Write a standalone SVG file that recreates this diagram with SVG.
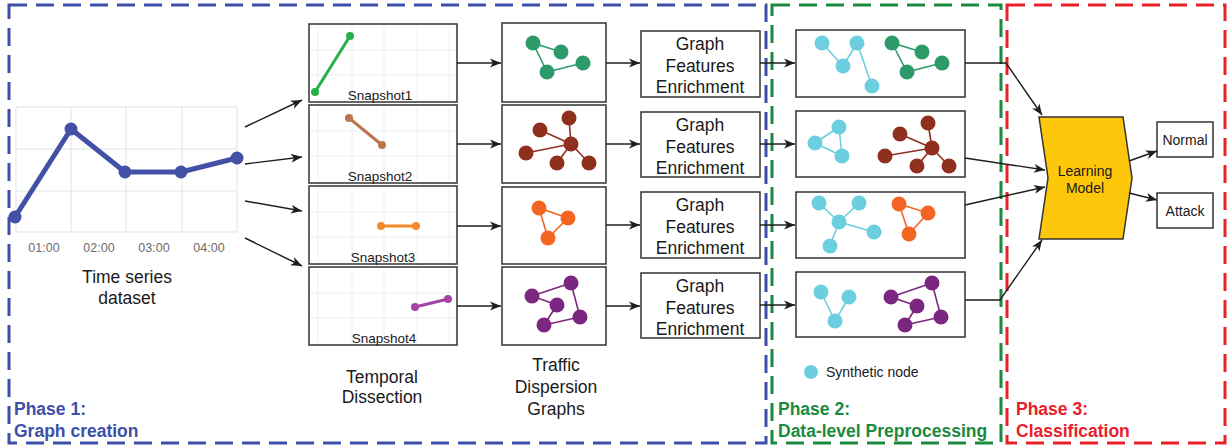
<svg xmlns="http://www.w3.org/2000/svg" width="1228" height="447" viewBox="0 0 1228 447">
  <defs>
    <marker id="arrow" markerUnits="userSpaceOnUse" markerWidth="12" markerHeight="10" refX="11" refY="5" orient="auto">
      <path d="M0,0.5 L11,5 L0,9.5 L3,5 z" fill="#1e1e1e"/>
    </marker>
    <style>
      .phase { fill: none; stroke-width: 3; stroke-dasharray: 18 9; }
      .box { fill: #fff; stroke: #333; stroke-width: 1.5; }
      .grid { stroke: #dfe4e9; stroke-width: 1; fill: none; }
      .fgrid { stroke: #eceff2; stroke-width: 1; fill: none; }
      .conn { fill: none; stroke: #1e1e1e; stroke-width: 1.4; marker-end: url(#arrow); }
      .t { font-family: "Liberation Sans", Arial, sans-serif; fill: #1a1a1a; }
      .lbl { font-size: 17.5px; text-anchor: middle; }
      .snap { font-size: 13.5px; text-anchor: middle; }
      .axis { font-size: 12.5px; text-anchor: middle; fill: #6b6b6b; }
      .ph { font-family: "Liberation Sans", Arial, sans-serif; font-size: 17.5px; font-weight: bold; }
      .e-green, .e-brown, .e-orange, .e-purple, .e-cyan { fill: none; stroke-width: 1.6; stroke-linejoin: round; }
      .e-green { stroke: #2d9a6a; }
      .n-green { fill: #2d9a6a; }
      .e-brown { stroke: #8f2f1e; }
      .n-brown { fill: #8f2f1e; }
      .e-orange { stroke: #f26522; }
      .n-orange { fill: #f26522; }
      .e-purple { stroke: #7b2780; }
      .n-purple { fill: #7b2780; }
      .e-cyan { stroke: #6ccfdf; }
      .n-cyan { fill: #6ccfdf; }
    </style>
  </defs>

  <!-- phase frames -->
  <g id="phase1">
    <rect class="phase" x="9" y="5" width="757" height="438" stroke="#3d4fa9"/>
    <text class="ph" x="14" y="415" fill="#3d4fa9">Phase 1:</text>
    <text class="ph" x="14" y="437" fill="#3d4fa9">Graph creation</text>
  </g>
  <g id="phase2">
    <rect class="phase" x="772" y="5" width="229" height="438" stroke="#1a8a3e"/>
    <text class="ph" x="778" y="415" fill="#1a8a3e">Phase 2:</text>
    <text class="ph" x="778" y="437" fill="#1a8a3e">Data-level Preprocessing</text>
  </g>
  <g id="phase3">
    <rect class="phase" x="1007" y="5" width="218" height="438" stroke="#e8202a"/>
    <text class="ph" x="1016" y="415" fill="#e8202a">Phase 3:</text>
    <text class="ph" x="1016" y="437" fill="#e8202a">Classification</text>
  </g>

  <!-- time series chart -->
  <g id="time-series">
    <path class="grid" d="M16,107 H237 M16,149 H237 M16,191 H237 M16,232 H237 M16,107 V232 M71,107 V232 M126,107 V232 M182,107 V232 M237,107 V232"/>
    <polyline points="15,217 71,129 125,172 181,172 237,158" fill="none" stroke="#4251a6" stroke-width="5" stroke-linejoin="round"/>
    <g fill="#4251a6">
      <circle cx="15" cy="217" r="6.5"/>
      <circle cx="71" cy="129" r="6.5"/>
      <circle cx="125" cy="172" r="6.5"/>
      <circle cx="181" cy="172" r="6.5"/>
      <circle cx="237" cy="158" r="6.5"/>
    </g>
    <text class="t axis" x="44" y="252">01:00</text>
    <text class="t axis" x="99" y="252">02:00</text>
    <text class="t axis" x="154" y="252">03:00</text>
    <text class="t axis" x="209" y="252">04:00</text>
    <text class="t lbl" x="127" y="283">Time series</text>
    <text class="t lbl" x="127" y="304">dataset</text>
  </g>

  <!-- temporal snapshots -->
  <g id="snapshot1">
    <rect class="box" x="309" y="24" width="148" height="78"/>
    <path class="fgrid" d="M318,26 V100 M352,26 V100 M384,26 V100 M417,26 V100 M449,26 V100 M311,50 H455 M311,75 H455"/>
    <line x1="315" y1="92" x2="350" y2="36" stroke="#27b04a" stroke-width="3"/>
    <circle cx="315" cy="92" r="4" fill="#27b04a"/>
    <circle cx="350" cy="36" r="4" fill="#27b04a"/>
    <text class="t snap" x="380" y="100">Snapshot1</text>
  </g>
  <g id="snapshot2">
    <rect class="box" x="309" y="105" width="148" height="78"/>
    <path class="fgrid" d="M318,107 V181 M352,107 V181 M384,107 V181 M417,107 V181 M449,107 V181 M311,131 H455 M311,156 H455"/>
    <line x1="349" y1="118" x2="382" y2="145" stroke="#b8774d" stroke-width="3"/>
    <circle cx="349" cy="118" r="4" fill="#b8774d"/>
    <circle cx="382" cy="145" r="4" fill="#b8774d"/>
    <text class="t snap" x="380" y="181">Snapshot2</text>
  </g>
  <g id="snapshot3">
    <rect class="box" x="309" y="186" width="148" height="78"/>
    <path class="fgrid" d="M318,188 V262 M352,188 V262 M384,188 V262 M417,188 V262 M449,188 V262 M311,212 H455 M311,237 H455"/>
    <line x1="381" y1="226" x2="416" y2="226" stroke="#f58a2d" stroke-width="3"/>
    <circle cx="381" cy="226" r="4" fill="#f58a2d"/>
    <circle cx="416" cy="226" r="4" fill="#f58a2d"/>
    <text class="t snap" x="383" y="262">Snapshot3</text>
  </g>
  <g id="snapshot4">
    <rect class="box" x="309" y="267" width="148" height="78"/>
    <path class="fgrid" d="M318,269 V343 M352,269 V343 M384,269 V343 M417,269 V343 M449,269 V343 M311,293 H455 M311,318 H455"/>
    <line x1="415" y1="307" x2="448" y2="299" stroke="#a544a8" stroke-width="3"/>
    <circle cx="415" cy="307" r="4" fill="#a544a8"/>
    <circle cx="448" cy="299" r="4" fill="#a544a8"/>
    <text class="t snap" x="384" y="343">Snapshot4</text>
  </g>
  <g id="temporal-label">
    <text class="t lbl" x="382" y="383">Temporal</text>
    <text class="t lbl" x="382" y="403">Dissection</text>
  </g>

  <!-- traffic dispersion graphs -->
  <g id="graph1">
    <rect class="box" x="502" y="23" width="104" height="79"/>
    <path class="e-green" d="M533,43 L561,52 M533,43 L547,72 L583,63"/>
    <g class="n-green">
      <circle cx="533" cy="43" r="7.5"/><circle cx="561" cy="52" r="7.5"/>
      <circle cx="583" cy="63" r="7.5"/><circle cx="547" cy="72" r="7.5"/>
    </g>
  </g>
  <g id="graph2">
    <rect class="box" x="502" y="105" width="104" height="78"/>
    <path class="e-brown" d="M571,144 L569,118 M571,144 L540,130 M571,144 L526,153 M571,144 L557,163 M571,144 L589,163"/>
    <g class="n-brown">
      <circle cx="571" cy="144" r="7.5"/><circle cx="569" cy="118" r="7.5"/>
      <circle cx="540" cy="130" r="7.5"/><circle cx="526" cy="153" r="7.5"/>
      <circle cx="557" cy="163" r="7.5"/><circle cx="589" cy="163" r="7.5"/>
    </g>
  </g>
  <g id="graph3">
    <rect class="box" x="502" y="187" width="104" height="77"/>
    <path class="e-orange" d="M539,208 L568,218 L548,238 Z"/>
    <g class="n-orange">
      <circle cx="539" cy="208" r="7.5"/><circle cx="568" cy="218" r="7.5"/>
      <circle cx="548" cy="238" r="7.5"/>
    </g>
  </g>
  <g id="graph4">
    <rect class="box" x="502" y="267" width="104" height="78"/>
    <path class="e-purple" d="M532,296 L571,283 L580,317 L544,325 L557,305 L532,296"/>
    <g class="n-purple">
      <circle cx="571" cy="283" r="7.5"/><circle cx="532" cy="296" r="7.5"/>
      <circle cx="557" cy="305" r="7.5"/><circle cx="580" cy="317" r="7.5"/>
      <circle cx="544" cy="325" r="7.5"/>
    </g>
  </g>
  <g id="tdg-label">
    <text class="t lbl" x="556" y="371">Traffic</text>
    <text class="t lbl" x="556" y="393">Dispersion</text>
    <text class="t lbl" x="556" y="415">Graphs</text>
  </g>

  <!-- feature enrichment steps -->
  <g id="enrich1">
    <rect class="box" x="641" y="31" width="119" height="66"/>
    <text class="t lbl" x="700" y="50">Graph</text>
    <text class="t lbl" x="700" y="72">Features</text>
    <text class="t lbl" x="700" y="93">Enrichment</text>
  </g>
  <g id="enrich2">
    <rect class="box" x="641" y="112" width="119" height="65"/>
    <text class="t lbl" x="700" y="131">Graph</text>
    <text class="t lbl" x="700" y="153">Features</text>
    <text class="t lbl" x="700" y="174">Enrichment</text>
  </g>
  <g id="enrich3">
    <rect class="box" x="641" y="192" width="119" height="66"/>
    <text class="t lbl" x="700" y="211">Graph</text>
    <text class="t lbl" x="700" y="233">Features</text>
    <text class="t lbl" x="700" y="254">Enrichment</text>
  </g>
  <g id="enrich4">
    <rect class="box" x="641" y="273" width="119" height="65"/>
    <text class="t lbl" x="700" y="292">Graph</text>
    <text class="t lbl" x="700" y="314">Features</text>
    <text class="t lbl" x="700" y="335">Enrichment</text>
  </g>

  <!-- graphs with synthetic nodes -->
  <g id="balanced1">
    <rect class="box" x="796" y="30" width="169" height="67"/>
    <path class="e-cyan" d="M822,43 L843,66 L857,43 L872,86"/>
    <g class="n-cyan">
      <circle cx="822" cy="43" r="7.5"/><circle cx="857" cy="43" r="7.5"/>
      <circle cx="843" cy="66" r="7.5"/><circle cx="872" cy="86" r="7.5"/>
    </g>
    <path class="e-green" d="M892,43 L922,52 M892,43 L907,72 L942,63"/>
    <g class="n-green">
      <circle cx="892" cy="43" r="7.5"/><circle cx="922" cy="52" r="7.5"/>
      <circle cx="942" cy="63" r="7.5"/><circle cx="907" cy="72" r="7.5"/>
    </g>
  </g>
  <g id="balanced2">
    <rect class="box" x="796" y="111" width="169" height="66"/>
    <path class="e-cyan" d="M839,127 L815,143 L842,156 Z"/>
    <g class="n-cyan">
      <circle cx="839" cy="127" r="7.5"/><circle cx="815" cy="143" r="7.5"/>
      <circle cx="842" cy="156" r="7.5"/>
    </g>
    <path class="e-brown" d="M932,148 L928,123 M932,148 L900,134 M932,148 L885,156 M932,148 L917,166 M932,148 L949,166"/>
    <g class="n-brown">
      <circle cx="932" cy="148" r="7.5"/><circle cx="928" cy="123" r="7.5"/>
      <circle cx="900" cy="134" r="7.5"/><circle cx="885" cy="156" r="7.5"/>
      <circle cx="917" cy="166" r="7.5"/><circle cx="949" cy="166" r="7.5"/>
    </g>
  </g>
  <g id="balanced3">
    <rect class="box" x="796" y="192" width="169" height="66"/>
    <path class="e-cyan" d="M839,222 L819,203 M839,222 L859,203 M839,222 L874,232 M839,222 L830,246"/>
    <g class="n-cyan">
      <circle cx="839" cy="222" r="7.5"/><circle cx="819" cy="203" r="7.5"/>
      <circle cx="859" cy="203" r="7.5"/><circle cx="874" cy="232" r="7.5"/>
      <circle cx="830" cy="246" r="7.5"/>
    </g>
    <path class="e-orange" d="M899,204 L928,213 L909,234 Z"/>
    <g class="n-orange">
      <circle cx="899" cy="204" r="7.5"/><circle cx="928" cy="213" r="7.5"/>
      <circle cx="909" cy="234" r="7.5"/>
    </g>
  </g>
  <g id="balanced4">
    <rect class="box" x="796" y="272" width="169" height="65"/>
    <path class="e-cyan" d="M821,292 L835,321 L849,297"/>
    <g class="n-cyan">
      <circle cx="821" cy="292" r="7.5"/><circle cx="849" cy="297" r="7.5"/>
      <circle cx="835" cy="321" r="7.5"/>
    </g>
    <path class="e-purple" d="M891,297 L932,283 L941,317 L905,325 L917,306 L891,297"/>
    <g class="n-purple">
      <circle cx="932" cy="283" r="7.5"/><circle cx="891" cy="297" r="7.5"/>
      <circle cx="917" cy="306" r="7.5"/><circle cx="941" cy="317" r="7.5"/>
      <circle cx="905" cy="325" r="7.5"/>
    </g>
  </g>
  <g id="legend">
    <circle cx="811" cy="372" r="7" fill="#6ccfdf"/>
    <text class="t" x="826" y="377" font-size="14">Synthetic node</text>
  </g>

  <!-- classifier and outcomes -->
  <g id="learning-model">
    <polygon points="1039,117 1123,117 1132,178 1123,239 1039,239 1048,178" fill="#fdc70c" stroke="#333" stroke-width="1.5"/>
    <text class="t" x="1085" y="176" font-size="14" text-anchor="middle">Learning</text>
    <text class="t" x="1085" y="193" font-size="14" text-anchor="middle">Model</text>
  </g>
  <g id="normal">
    <rect class="box" x="1157" y="122" width="56" height="35"/>
    <text class="t" x="1185" y="145" font-size="14" text-anchor="middle">Normal</text>
  </g>
  <g id="attack">
    <rect class="box" x="1157" y="193" width="56" height="35"/>
    <text class="t" x="1185" y="216" font-size="14" text-anchor="middle">Attack</text>
  </g>

  <!-- connectors -->
  <g id="connectors">
    <line class="conn" x1="245" y1="127" x2="302" y2="100"/>
    <line class="conn" x1="245" y1="164" x2="302" y2="157"/>
    <line class="conn" x1="245" y1="201" x2="302" y2="211"/>
    <line class="conn" x1="245" y1="238" x2="302" y2="266"/>

    <line class="conn" x1="457" y1="63" x2="501" y2="63"/>
    <line class="conn" x1="457" y1="144" x2="501" y2="144"/>
    <line class="conn" x1="457" y1="226" x2="501" y2="226"/>
    <line class="conn" x1="457" y1="306" x2="501" y2="306"/>

    <line class="conn" x1="606" y1="63" x2="640" y2="63"/>
    <line class="conn" x1="606" y1="144" x2="640" y2="144"/>
    <line class="conn" x1="606" y1="225" x2="640" y2="225"/>
    <line class="conn" x1="606" y1="306" x2="640" y2="306"/>

    <line class="conn" x1="760" y1="63" x2="795" y2="63"/>
    <line class="conn" x1="760" y1="144" x2="795" y2="144"/>
    <line class="conn" x1="760" y1="225" x2="795" y2="225"/>
    <line class="conn" x1="760" y1="305" x2="795" y2="305"/>

    <polyline class="conn" points="965,63 1006,63 1042,115"/>
    <line class="conn" x1="965" y1="158" x2="1045" y2="170"/>
    <line class="conn" x1="965" y1="205" x2="1045" y2="187"/>
    <polyline class="conn" points="965,300 1000,300 1042,240"/>

    <line class="conn" x1="1129" y1="161" x2="1157" y2="151"/>
    <line class="conn" x1="1129" y1="193" x2="1157" y2="200"/>
  </g>
</svg>
